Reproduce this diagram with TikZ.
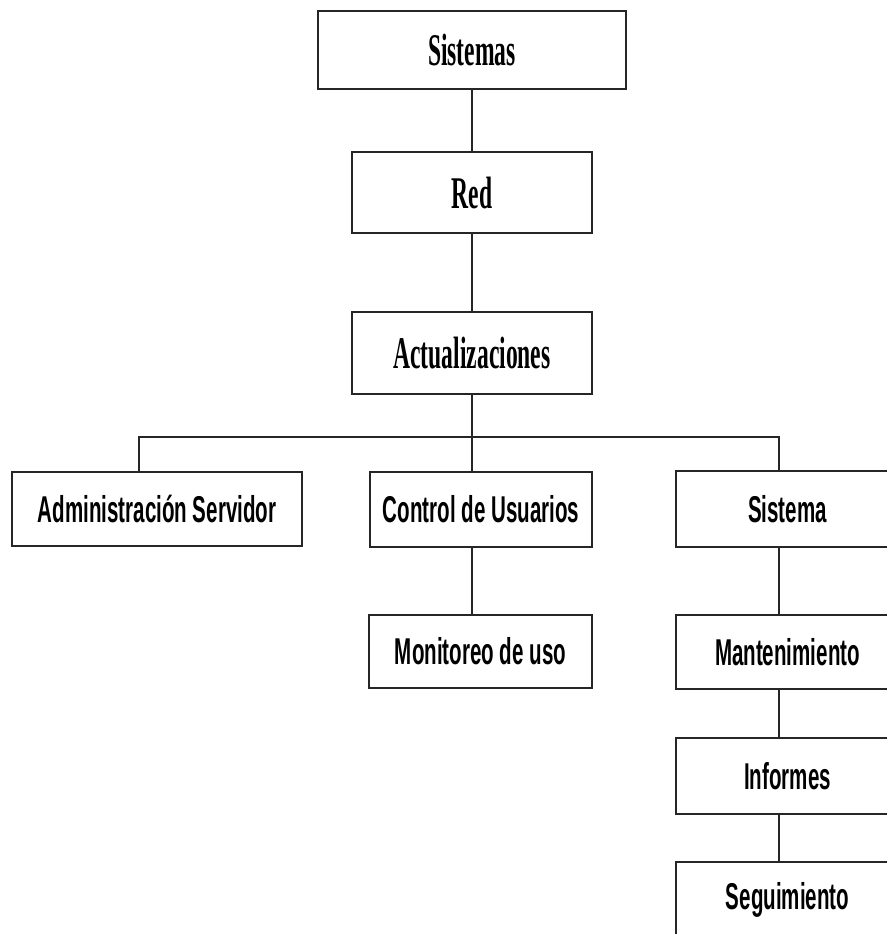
\documentclass[tikz,border=0pt]{standalone}
\usepackage{fontspec}
\usepackage{graphicx}
\newfontfamily\serifcond[FakeStretch=0.52]{Liberation Serif}
\newfontfamily\sanscond[FakeStretch=0.55]{Liberation Sans}
\newdimen\pxu \pxu=0.75pt
\begin{document}
\begin{tikzpicture}[x=0.75pt,y=-0.75pt,
  boxline/.style={draw=black!85,line width=1.6pt},
  box/.style={boxline,fill=white,inner sep=0pt,align=center},
  serifbox/.style={box,font=\serifcond\bfseries\fontsize{34pt}{36pt}\selectfont},
  sansbox/.style={box,font=\sanscond\bfseries\fontsize{28pt}{30pt}\selectfont},
  sansopen/.style={sansbox,draw=none,fill=none},
  link/.style={draw=black!85,line width=1pt}]
\fill[white] (0,0) rectangle (887,934);
\useasboundingbox (0,0) rectangle (887,934);
% top column
\node[serifbox,minimum width=308\pxu,minimum height=78\pxu] (sis) at (472,50) {Sistemas};
\node[serifbox,minimum width=240\pxu,minimum height=81\pxu] (red) at (472,192.5) {Red};
\node[serifbox,minimum width=240\pxu,minimum height=82\pxu] (act) at (472,353) {Actualizaciones};
% second level
\node[sansbox,minimum width=290\pxu,minimum height=74\pxu] (adm) at (157,509) {Administración Servidor};
\node[sansbox,minimum width=222\pxu,minimum height=75\pxu] (ctl) at (481,509.5) {Control de Usuarios};
\node[sansopen,minimum width=221\pxu,minimum height=74\pxu] (sys) at (787.5,509) {Sistema};
% lower levels
\node[sansbox,minimum width=223\pxu,minimum height=73\pxu] (mon) at (480.5,651.5) {Monitoreo de uso};
\node[sansopen,minimum width=221\pxu,minimum height=72\pxu] (man) at (787.5,652) {Mantenimiento};
\node[sansopen,minimum width=221\pxu,minimum height=74\pxu] (inf) at (787.5,776) {Informes};
\node[sansopen,minimum width=221\pxu,minimum height=74\pxu] (seg) at (787.5,900) {Seguimiento};
% right-column boxes run past the right (and bottom) edge of the picture
\draw[boxline] (sys.north east) -- (sys.north west) -- (sys.south west) -- (sys.south east);
\draw[boxline] (man.north east) -- (man.north west) -- (man.south west) -- (man.south east);
\draw[boxline] (inf.north east) -- (inf.north west) -- (inf.south west) -- (inf.south east);
\draw[boxline] (seg.north east) -- (seg.north west) -- (seg.south west);
% bus coordinates
\coordinate (busL) at (139,437);
\coordinate (busC) at (472,437);
\coordinate (busR) at (779,437);
% connectors
\draw[link] (sis.south) -- (red.north);
\draw[link] (red.south) -- (act.north);
\draw[link] (act.south) -- (busC);
\draw[link] (adm.north -| busL) -- (busL) -- (busR) -- (sys.north -| busR);
\draw[link] (busC) -- (ctl.north -| busC);
\draw[link] (ctl.south -| busC) -- (mon.north -| busC);
\draw[link] (sys.south -| busR) -- (man.north -| busR);
\draw[link] (man.south -| busR) -- (inf.north -| busR);
\draw[link] (inf.south -| busR) -- (seg.north -| busR);
\end{tikzpicture}
\end{document}
